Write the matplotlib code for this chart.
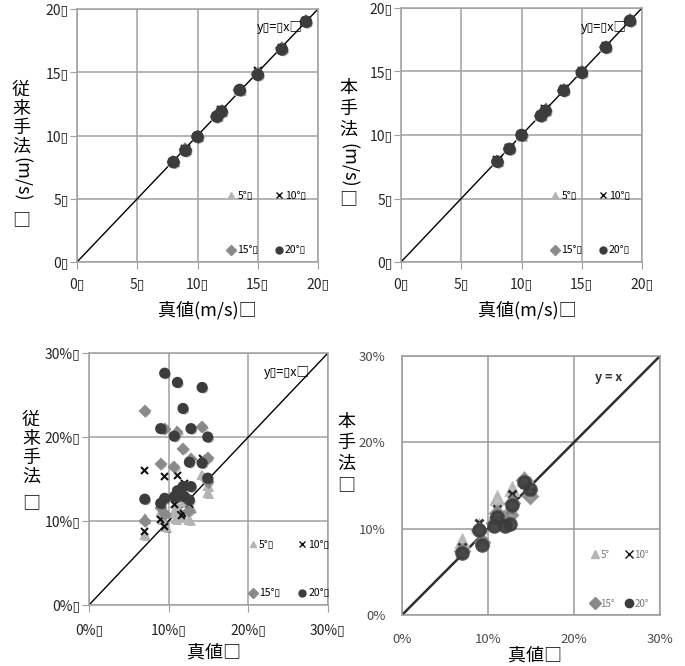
import numpy as np
import matplotlib
matplotlib.use('Agg')
import matplotlib.pyplot as plt
import matplotlib.patheffects as pe
from matplotlib.ticker import FixedLocator, FuncFormatter

plt.rcParams['font.family'] = ['Noto Sans CJK JP', 'DejaVu Sans']

W, H = 685, 666

# ---- data: wind speed (top panels), true value vs method (m/s)
spd_true = [8.0, 9.0, 10.0, 11.6, 12.0, 13.5, 15.0, 17.0, 19.0]
spd_old_5 = [8.0, 9.0, 10.0, 11.6, 12.0, 13.6, 15.0, 17.0, 19.1]
spd_old_10 = [7.9, 8.9, 9.9, 11.5, 12.0, 13.6, 15.1, 16.9, 19.0]
spd_old_15 = [7.9, 8.9, 9.9, 11.5, 11.9, 13.6, 14.9, 16.9, 19.0]
spd_old_20 = [7.9, 8.8, 9.9, 11.5, 11.9, 13.6, 14.8, 16.8, 19.0]
spd_new_5 = [8.0, 9.0, 10.0, 11.6, 12.0, 13.6, 15.0, 17.0, 19.1]
spd_new_10 = [8.0, 9.0, 10.0, 11.6, 12.0, 13.6, 15.0, 17.0, 19.0]
spd_new_15 = [7.9, 8.9, 10.0, 11.5, 12.0, 13.5, 15.0, 16.9, 19.0]
spd_new_20 = [7.9, 8.9, 10.0, 11.5, 11.9, 13.5, 14.9, 16.9, 19.0]

# ---- data: turbulence intensity (%), conventional method
ti_old_x5 = [7.0, 7.0, 9.0, 9.3, 9.7, 10.7, 11.1, 11.5, 12.0, 12.6, 12.8, 14.2, 14.9, 14.9, 11.8, 10.9]
ti_old_y5 = [8.3, 10.3, 11.1, 10.1, 9.3, 11.0, 11.8, 10.5, 12.3, 10.1, 11.6, 15.5, 13.3, 14.2, 12.8, 10.2]
ti_old_x10 = [7.0, 7.0, 9.5, 11.1, 12.0, 14.2, 9.0, 11.8, 11.6, 12.6, 9.5, 10.7]
ti_old_y10 = [16.0, 8.8, 15.3, 15.4, 14.5, 17.4, 10.2, 10.9, 10.7, 12.0, 9.4, 12.0]
ti_old_x15 = [7.0, 11.1, 9.0, 10.7, 11.8, 14.2, 12.8, 14.9, 9.5, 7.0, 9.0, 9.5, 11.1, 12.6, 14.9, 12.3]
ti_old_y15 = [23.1, 20.6, 16.8, 16.4, 18.6, 21.2, 17.4, 17.5, 21.0, 10.0, 11.5, 10.8, 13.0, 11.2, 14.6, 12.5]
ti_old_x20 = [9.5, 11.1, 14.2, 11.8, 9.0, 12.8, 10.7, 14.9, 12.6, 14.2, 7.0, 9.0, 9.5,
              10.7, 11.1, 11.8, 12.6, 12.8, 14.9, 11.0, 12.0]
ti_old_y20 = [27.6, 26.5, 25.9, 23.4, 21.0, 21.0, 20.1, 20.0, 17.0, 16.9, 12.6, 12.1, 12.7,
              12.9, 13.6, 14.1, 12.5, 14.1, 15.1, 12.9, 12.9]

# ---- data: turbulence intensity (%), proposed method
ti_true = [7.0, 9.0, 9.3, 10.7, 11.1, 12.0, 12.5, 12.8, 14.2, 14.9]
ti_new_5 = [8.6, 10.3, 8.8, 11.5, 13.5, 11.2, 12.5, 14.6, 15.8, 15.2]
ti_new_10 = [7.9, 10.7, 8.6, 11.0, 12.3, 11.0, 12.2, 14.0, 15.2, 14.3]
ti_new_15 = [7.4, 9.8, 8.4, 10.6, 11.8, 10.6, 11.6, 13.0, 15.6, 13.8]
ti_new_20 = [7.2, 9.9, 8.1, 10.3, 11.3, 10.3, 10.5, 12.7, 15.4, 14.6]

labels = ['5°', '10°', '15°', '20°']
markers = ['^', 'x', 'D', 'o']
colors = ['#b4b4b4', '#111111', '#8a8a8a', '#3c3c3c']
msizes = [7, 6, 5.5, 7.5]

shadow = [pe.SimplePatchShadow(offset=(1.2, -1.2), alpha=0.35), pe.Normal()]


def px_rect(l, t, r, b):
    return [l / W, 1 - b / H, (r - l) / W, (b - t) / H]


def fig_text(fig, x, y, s, **kw):
    fig.text(x / W, 1 - y / H, s, ha='center', va='center', **kw)


def style_ax(ax, lim, step, fmt, tick_kw, pad_x, pad_y, grid_c='#a0a0a0'):
    ax.set_xlim(0, lim)
    ax.set_ylim(0, lim)
    ticks = np.arange(0, lim + 0.01, step)
    ax.xaxis.set_major_locator(FixedLocator(ticks))
    ax.yaxis.set_major_locator(FixedLocator(ticks))
    ax.xaxis.set_major_formatter(FuncFormatter(fmt))
    ax.yaxis.set_major_formatter(FuncFormatter(fmt))
    ax.grid(True, color=grid_c, lw=1.1)
    ax.set_axisbelow(True)
    for s in ax.spines.values():
        s.set_color(grid_c)
        s.set_linewidth(1.1)
    ax.tick_params(axis='x', pad=pad_x, **tick_kw)
    ax.tick_params(axis='y', pad=pad_y, **tick_kw)


def legend(ax, anchor, fs, ms, colsp, rowsp, box=True):
    hs = [plt.Line2D([], [], ls='', marker=m, color=c, ms=ms) for m, c in zip(markers, colors)]
    names = [l + '▯' for l in labels] if box else labels
    order = [0, 2, 1, 3]  # legend fills by column, reference reads by row
    ax.legend([hs[i] for i in order], [names[i] for i in order], ncol=2, loc='lower left',
              bbox_to_anchor=anchor, frameon=False, fontsize=fs, handlelength=0.6,
              handletextpad=0.3, columnspacing=colsp, labelspacing=rowsp, borderaxespad=0)


fig = plt.figure(figsize=(W / 100, H / 100), dpi=100)

tick_kw = dict(labelsize=10, length=5, color='#a0a0a0', labelcolor='#222222', direction='out')
spd_fmt = lambda v, p: f'{v:.0f}▯'
pct_fmt = lambda v, p: f'{v:.0f}%▯'

# ---- top left
ax1 = fig.add_axes(px_rect(77, 9, 318, 262))
style_ax(ax1, 20, 5, spd_fmt, tick_kw, 6, 1)
ax1.plot([0, 20], [0, 20], color='black', lw=1, zorder=1)
for ys, m, c, ms in zip([spd_old_5, spd_old_10, spd_old_15, spd_old_20], markers, colors, msizes):
    ax1.plot(spd_true, ys, ls='', marker=m, color=c, ms=ms, mew=1.5, path_effects=shadow, zorder=3)
ax1.text(16.8, 18.5, 'y▯=▯x□', fontsize=9, ha='center', va='center')
legend(ax1, (0.61, 0.01), 7.5, 5, 1.6, 4.3)

# ---- top right
ax2 = fig.add_axes(px_rect(401, 8, 642, 262))
style_ax(ax2, 20, 5, spd_fmt, tick_kw, 6, 1)
ax2.plot([0, 20], [0, 20], color='black', lw=1, zorder=1)
for ys, m, c, ms in zip([spd_new_5, spd_new_10, spd_new_15, spd_new_20], markers, colors, msizes):
    ax2.plot(spd_true, ys, ls='', marker=m, color=c, ms=ms, mew=1.5, path_effects=shadow, zorder=3)
ax2.text(16.8, 18.5, 'y▯=▯x□', fontsize=9, ha='center', va='center')
legend(ax2, (0.61, 0.01), 7.5, 5, 1.6, 4.3)

# ---- bottom left
ax3 = fig.add_axes(px_rect(89, 353, 328, 605))
style_ax(ax3, 30, 10, pct_fmt, tick_kw, 8, 1)
ax3.plot([0, 30], [0, 30], color='black', lw=1, zorder=1)
pts = [(ti_old_x5, ti_old_y5), (ti_old_x10, ti_old_y10), (ti_old_x15, ti_old_y15), (ti_old_x20, ti_old_y20)]
for (xs, ys), m, c, ms in zip(pts, markers, colors, [6, 5, 5, 6.5]):
    ax3.plot(xs, ys, ls='', marker=m, color=c, ms=ms, mew=1.5, path_effects=shadow, zorder=3)
ax3.text(24.8, 27.7, 'y▯=▯x□', fontsize=9, ha='center', va='center')
legend(ax3, (0.655, 0.01), 7.5, 5, 1.8, 3.7)

# ---- bottom right
tick_kw2 = dict(labelsize=9.5, length=0, labelcolor='#4a4a4a')
ax4 = fig.add_axes(px_rect(402, 356, 660, 615))
style_ax(ax4, 30, 10, lambda v, p: f'{v:.0f}%', tick_kw2, 13, 12, grid_c='#9a9a9a')
ax4.plot([0, 30], [0, 30], color='#2e2e2e', lw=1.8, zorder=1)
for ys, m, c, ms in zip([ti_new_5, ti_new_10, ti_new_15, ti_new_20], markers, colors, [8, 6, 7, 8.5]):
    ax4.plot(ti_true, ys, ls='', marker=m, color=c, ms=ms, mew=2, alpha=0.85, zorder=3)
ax4.text(24.0, 27.5, 'y = x', fontsize=9, ha='center', va='center', color='#333333', weight='bold')
legend(ax4, (0.72, 0.01), 7, 6, 1.1, 4.0, box=False)
for t in ax4.get_legend().get_texts():
    t.set_color('#777777')

# ---- axis titles (vertical text, character by character)
cjk = 13
for ch, y in zip('従来手法', [90, 109, 128, 147]):
    fig_text(fig, 21, y, ch, fontsize=cjk)
fig_text(fig, 21, 179, '(m/s)', fontsize=cjk, rotation=-90)
fig_text(fig, 21, 220, '□', fontsize=cjk)
fig_text(fig, 207, 310, '真値(m/s)□', fontsize=cjk)

for ch, y in zip('本手法', [88, 109, 130]):
    fig_text(fig, 348, y, ch, fontsize=cjk)
fig_text(fig, 348, 165, '(m/s)', fontsize=cjk, rotation=-90)
fig_text(fig, 348, 199, '□', fontsize=cjk)
fig_text(fig, 527, 310, '真値(m/s)□', fontsize=cjk)

for ch, y in zip('従来手法□', [420, 439, 458, 477, 503]):
    fig_text(fig, 31, y, ch, fontsize=cjk)
fig_text(fig, 214, 653, '真値□', fontsize=cjk)

for ch, y in zip('本手法□', [422, 443, 464, 485]):
    fig_text(fig, 346, y, ch, fontsize=cjk)
fig_text(fig, 535, 656, '真値□', fontsize=cjk)

fig.savefig('out.png', dpi=100)
